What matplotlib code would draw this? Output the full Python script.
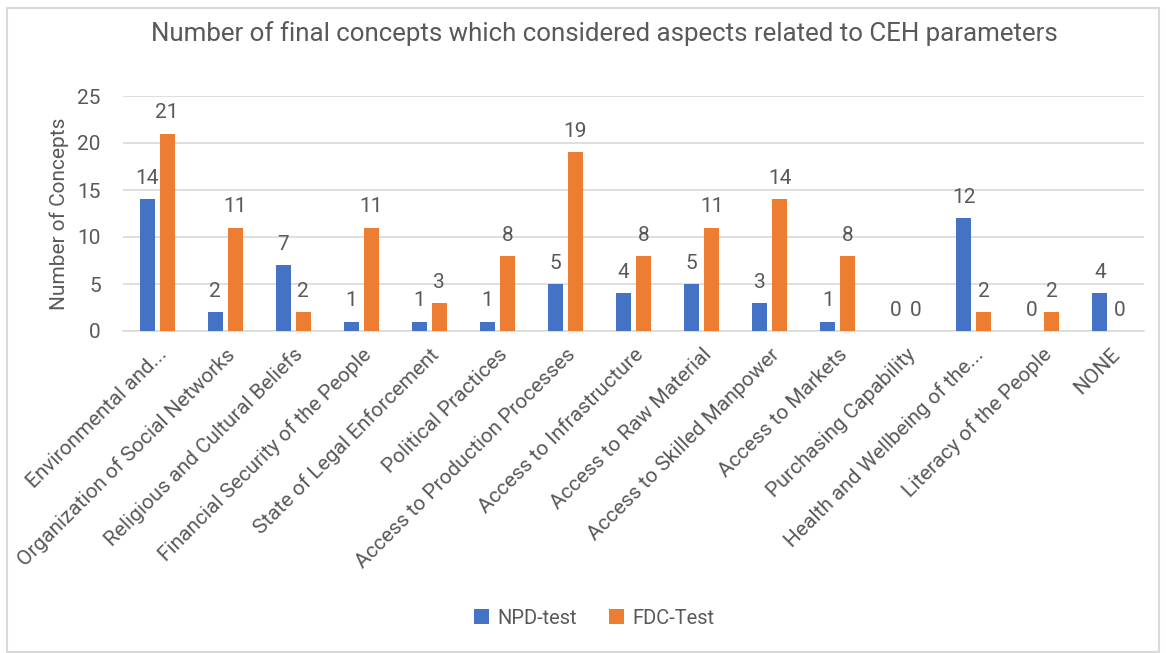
import matplotlib
matplotlib.use("Agg")
import matplotlib.pyplot as plt
import numpy as np
from matplotlib.patches import Rectangle

plt.rcParams['font.family'] = ['Roboto', 'DejaVu Sans']

categories = [
    "Environmental and...",
    "Organization of Social Networks",
    "Religious and Cultural Beliefs",
    "Financial Security of the People",
    "State of Legal Enforcement",
    "Political Practices",
    "Access to Production Processes",
    "Access to Infrastructure",
    "Access to Raw Material",
    "Access to Skilled Manpower",
    "Access to Markets",
    "Purchasing Capability",
    "Health and Wellbeing of the...",
    "Literacy of the People",
    "NONE",
]
npd_test = [14, 2, 7, 1, 1, 1, 5, 4, 5, 3, 1, 0, 12, 0, 4]
fdc_test = [21, 11, 2, 11, 3, 8, 19, 8, 11, 14, 8, 0, 2, 2, 0]
y_ticks = [0, 5, 10, 15, 20, 25]

blue = "#4472C4"
orange = "#ED7D31"
text_col = "#595959"
grid_col = "#D9D9D9"
wt = "normal"

W, H = 1166, 653
fig = plt.figure(figsize=(W / 100, H / 100), dpi=100)
ax = fig.add_axes([123 / W, 1 - 331 / H, (1144 - 123) / W, (331 - 96) / H])

x = np.arange(len(categories))
w = 0.22
off = 0.147
ax.bar(x - off, npd_test, w, color=blue, label="NPD-test", zorder=3)
ax.bar(x + off, fdc_test, w, color=orange, label="FDC-Test", zorder=3)

lab_kw = dict(ha="center", va="bottom", fontsize=15, color=text_col, fontweight=wt,
              textcoords="offset points")
for xi, v in zip(x, npd_test):
    ax.annotate(str(v), (xi - off, v), xytext=(0, 8), **lab_kw)
for xi, v in zip(x, fdc_test):
    ax.annotate(str(v), (xi + off, v), xytext=(0, 8), **lab_kw)

ax.set_xlim(-0.5, len(categories) - 0.5)
ax.set_ylim(0, 25)
ax.set_yticks(y_ticks)
ax.set_yticklabels([str(t) for t in y_ticks], fontsize=15, color=text_col, fontweight=wt)
ax.yaxis.grid(True, color=grid_col, linewidth=1.2, zorder=0)
ax.set_axisbelow(True)
ax.tick_params(axis="y", length=0, pad=16)
ax.set_xticks(x)
ax.set_xticklabels(categories, rotation=45, ha="right", rotation_mode="anchor",
                   fontsize=15, color=text_col, fontweight=wt)
ax.tick_params(axis="x", length=0, pad=10)
for s in ["top", "right", "left"]:
    ax.spines[s].set_visible(False)
ax.spines["bottom"].set_color(grid_col)
ax.spines["bottom"].set_linewidth(1.2)

ax.set_ylabel("Number of Concepts", fontsize=15, color=text_col, fontweight=wt, labelpad=6)

fig.text(604 / W, 1 - 34 / H, "Number of final concepts which considered aspects related to CEH parameters",
         ha="center", va="center", fontsize=18.6, color=text_col, fontweight=wt)

fig.legend(loc="center", bbox_to_anchor=(594 / W, 1 - 618 / H), ncol=2, frameon=False,
           prop={"size": 14.5, "weight": wt}, labelcolor=text_col,
           handlelength=0.75, handleheight=0.75, columnspacing=1.6, handletextpad=0.4)

fig.patches.append(Rectangle((7 / W, 1 / H), 1152 / W, 644 / H, transform=fig.transFigure,
                             fill=False, edgecolor=grid_col, linewidth=1.5))

fig.savefig("out.png", dpi=100)
